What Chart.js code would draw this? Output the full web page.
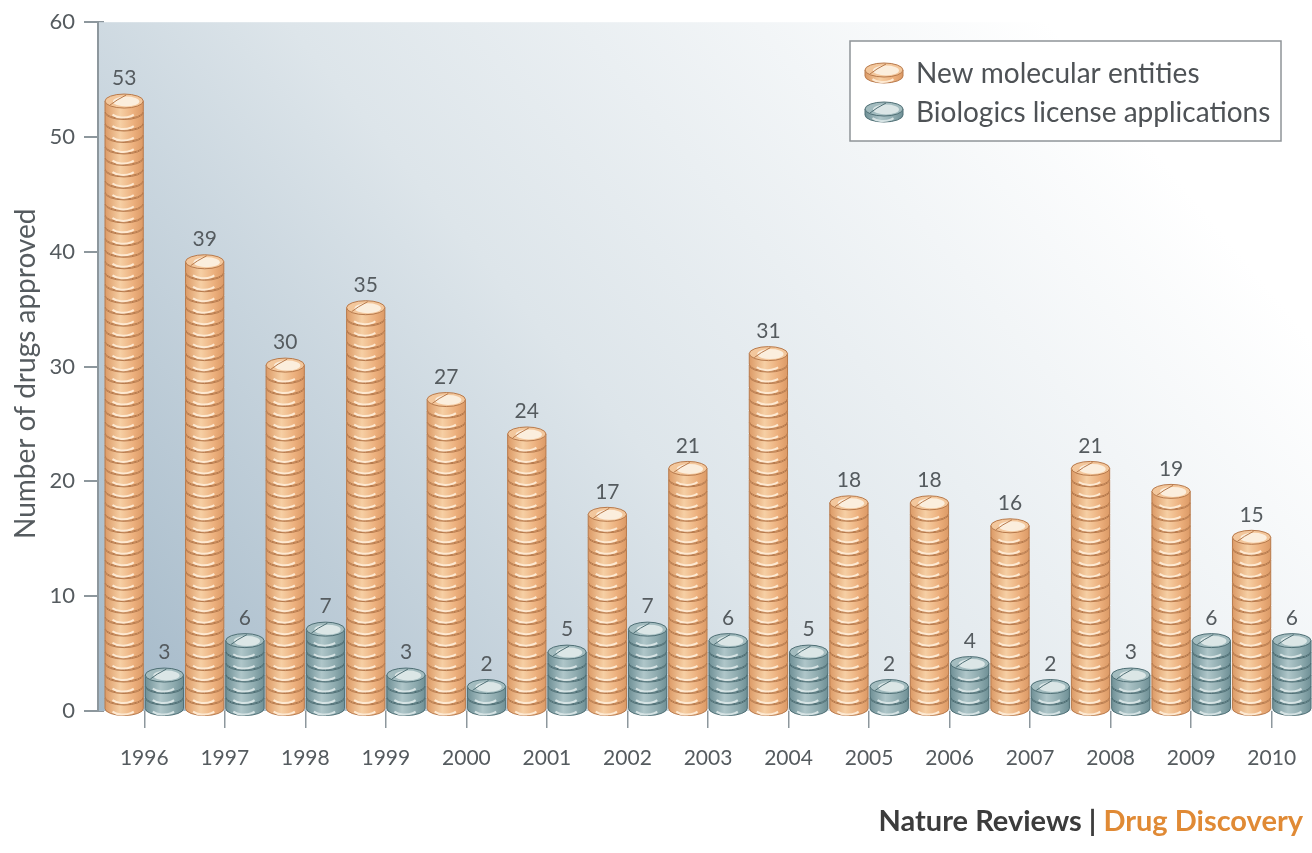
<!DOCTYPE html>
<html>
<head>
<meta charset="utf-8">
<title>Number of drugs approved</title>
<script src="https://cdn.jsdelivr.net/npm/chart.js@4"></script>
<style>
    html, body { margin: 0; padding: 0; background: #fff; }
    #wrap { position: relative; width: 1312px; height: 853px; overflow: hidden; }
    #credit { position: absolute; right: 9px; top: 802px; font: 700 29px Lato, sans-serif; color: #3c3c3c; white-space: nowrap; }
    #credit span { color: #e08a35; }
</style>
</head>
<body>
<div id="wrap">
    <canvas id="chart" width="1312" height="853"></canvas>
    <div id="credit">Nature Reviews | <span>Drug Discovery</span></div>
</div>
<script>
const years = ['1996', '1997', '1998', '1999', '2000', '2001', '2002', '2003', '2004', '2005', '2006', '2007', '2008', '2009', '2010'];
const newEntities = [53, 39, 30, 35, 27, 24, 17, 21, 31, 18, 18, 16, 21, 19, 15];
const biologics = [3, 6, 7, 3, 2, 5, 7, 6, 5, 2, 4, 2, 3, 6, 6];

const textColor = '#555b5f';
const axisColor = '#8d979d';
const orange = { edge: '#b87a4c', dark: '#dc9a66', mid: '#ecaf7c', light: '#f6cfa4', band: '#fde9d2', top: '#f3c79c', shine: '#fbeedd' };
const teal = { edge: '#4f6f75', dark: '#6f9096', mid: '#8daaae', light: '#afc6c9', band: '#d6e3e4', top: '#a3bcbf', shine: '#dbe6e6' };

// one tablet: wall first, then the face on top of it
function drawDisc(ctx, x, y, width, wall, colors, isTop) {
    const rx = width / 2;
    const ry = 7;
    const shade = ctx.createLinearGradient(x - rx, 0, x + rx, 0);
    shade.addColorStop(0, colors.dark);
    shade.addColorStop(0.4, colors.light);
    shade.addColorStop(0.75, colors.mid);
    shade.addColorStop(1, colors.dark);

    ctx.beginPath();
    ctx.moveTo(x - rx, y);
    ctx.lineTo(x - rx, y + wall);
    ctx.ellipse(x, y + wall, rx, ry, 0, Math.PI, 0, true);
    ctx.lineTo(x + rx, y);
    ctx.closePath();
    ctx.fillStyle = shade;
    ctx.fill();
    ctx.strokeStyle = colors.edge;
    ctx.lineWidth = 1;
    ctx.stroke();

    // pale glint across the front of the wall
    ctx.beginPath();
    ctx.ellipse(x - 1, y + wall - 1, rx - 6, ry, 0, Math.PI * 0.8, Math.PI * 0.2, true);
    ctx.strokeStyle = colors.band;
    ctx.lineWidth = 2;
    ctx.stroke();
    ctx.lineWidth = 1;
    ctx.strokeStyle = colors.edge;

    ctx.beginPath();
    ctx.ellipse(x, y, rx, ry, 0, 0, Math.PI * 2);
    ctx.fillStyle = colors.top;
    ctx.fill();
    ctx.stroke();

    if (isTop) {
        ctx.beginPath();
        ctx.ellipse(x + 2, y + 0.5, rx - 6, ry - 2, 0, 0, Math.PI * 2);
        ctx.fillStyle = colors.shine;
        ctx.fill();
        ctx.beginPath();
        ctx.moveTo(x - rx + 5, y + 4);
        ctx.quadraticCurveTo(x - 8, y - 1, x + 2, y - ry + 1);
        ctx.strokeStyle = colors.edge;
        ctx.stroke();
    }
}

// paints the plot background over the grid so the y ticks stop at the spine
const plotBackground = {
    id: 'plotBackground',
    beforeDatasetsDraw(chart) {
        const { ctx, chartArea } = chart;
        const left = chartArea.left - 6;
        const fade = ctx.createLinearGradient(left, chartArea.bottom, left + 900, chartArea.top - 60);
        fade.addColorStop(0, '#a3b8c8');
        fade.addColorStop(0.5, '#dde5ea');
        fade.addColorStop(1, '#ffffff');
        ctx.save();
        ctx.fillStyle = fade;
        ctx.fillRect(left, chartArea.top, chartArea.right - left, chartArea.bottom - chartArea.top);
        ctx.strokeStyle = axisColor;
        ctx.lineWidth = 2;
        ctx.beginPath();
        ctx.moveTo(left, chartArea.top - 1);
        ctx.lineTo(left, chartArea.bottom);
        ctx.stroke();
        ctx.restore();
    }
};

// each drug is one tablet, stacked up from the base of the bar
const tabletStacks = {
    id: 'tabletStacks',
    afterDatasetsDraw(chart) {
        const { ctx } = chart;
        const yScale = chart.scales.y;
        const palettes = [orange, teal];
        chart.data.datasets.forEach((dataset, d) => {
            chart.getDatasetMeta(d).data.forEach((bar, i) => {
                const count = dataset.data[i];
                const x = bar.x;
                ctx.save();
                for (let n = 1; n <= count; n++) {
                    drawDisc(ctx, x, yScale.getPixelForValue(n) - 1.5, bar.width - 2, 10.5, palettes[d], n === count);
                }
                ctx.fillStyle = textColor;
                ctx.font = '21px Lato, sans-serif';
                ctx.textAlign = 'center';
                ctx.textBaseline = 'middle';
                ctx.fillText(count, x, bar.y - 24);
                ctx.restore();
            });
        });
    }
};

const legendBox = {
    id: 'legendBox',
    afterDraw(chart) {
        const { ctx } = chart;
        const rows = [[chart.data.datasets[0].label, orange, 74], [chart.data.datasets[1].label, teal, 113]];
        ctx.save();
        ctx.fillStyle = '#ffffff';
        ctx.fillRect(850, 41, 431, 100);
        ctx.strokeStyle = '#8f9498';
        ctx.lineWidth = 1.5;
        ctx.strokeRect(850, 41, 431, 100);
        rows.forEach(([label, colors, y]) => {
            drawDisc(ctx, 884, y - 4, 38, 6, colors, true);
            ctx.fillStyle = '#4e5256';
            ctx.font = '28px Lato, sans-serif';
            ctx.textAlign = 'left';
            ctx.textBaseline = 'middle';
            ctx.fillText(label, 916, y);
        });
        ctx.restore();
    }
};

new Chart(document.getElementById('chart'), {
    type: 'bar',
    data: {
        labels: years,
        datasets: [
            { label: 'New molecular entities', data: newEntities, backgroundColor: 'transparent' },
            { label: 'Biologics license applications', data: biologics, backgroundColor: 'transparent' }
        ]
    },
    options: {
        responsive: false,
        animation: false,
        layout: { padding: { top: 21, right: 0, bottom: 0, left: 0 } },
        plugins: { legend: { display: false }, tooltip: { enabled: false } },
        datasets: { bar: { barPercentage: 1, categoryPercentage: 1 } },
        scales: {
            x: {
                afterFit(scale) {
                    scale.height = 142;
                    scale.paddingLeft = 0;
                    scale.paddingRight = 0;
                },
                border: { display: false },
                grid: { drawOnChartArea: false, offset: false, color: axisColor, lineWidth: 1.5, tickLength: 17 },
                ticks: { autoSkip: false, maxRotation: 0, color: textColor, padding: 18, font: { family: 'Lato, sans-serif', size: 21 } }
            },
            y: {
                min: 0,
                max: 60,
                afterFit(scale) { scale.width = 104; },
                border: { display: false },
                grid: { drawOnChartArea: false, color: axisColor, lineWidth: 2, tickLength: 20 },
                ticks: { stepSize: 10, color: textColor, padding: 9, font: { family: 'Lato, sans-serif', size: 22 } },
                // trailing spaces nudge the centred title down the axis
                title: { display: true, text: 'Number of drugs approved  ', color: textColor, padding: { top: 9, bottom: 0 }, font: { family: 'Lato, sans-serif', size: 28 } }
            }
        }
    },
    plugins: [plotBackground, tabletStacks, legendBox]
});
</script>
</body>
</html>
